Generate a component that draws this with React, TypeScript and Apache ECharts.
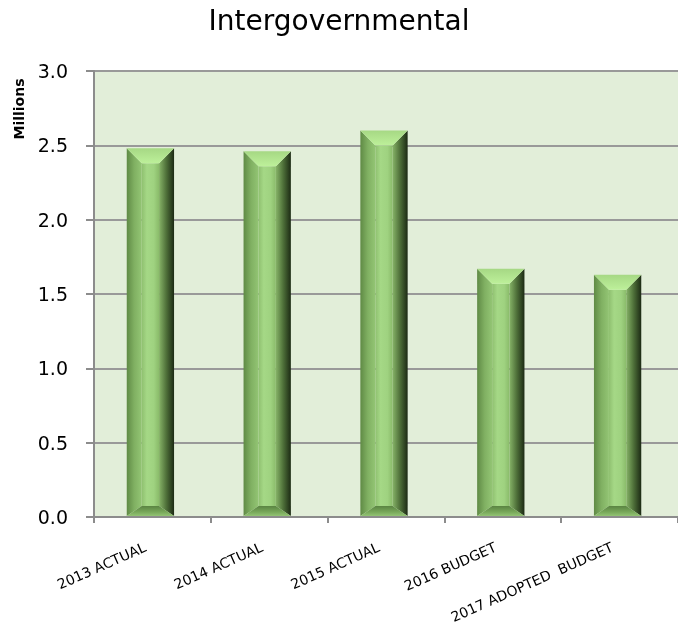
import React, { useEffect, useRef } from "react";
import * as echarts from "echarts";

const categories = ["2013 ACTUAL", "2014 ACTUAL", "2015 ACTUAL", "2016 BUDGET", "2017 ADOPTED  BUDGET"];
const values = [2.48, 2.46, 2.6, 1.67, 1.63];
const yTicks = { min: 0, max: 3, interval: 0.5 };

function lg(x1: number, y1: number, x2: number, y2: number, stops: [number, string][]) {
  return new echarts.graphic.LinearGradient(x1, y1, x2, y2, stops.map(([offset, color]) => ({ offset, color })));
}

export default function App() {
  const ref = useRef<HTMLDivElement>(null);
  useEffect(() => {
    if (!ref.current) return;
    const chart = echarts.init(ref.current, null, { renderer: "svg" });
    const option: any = {
      animation: false,
      title: {
        text: "Intergovernmental",
        left: "center",
        top: 1,
        textStyle: { fontFamily: "DejaVu Sans", fontSize: 28, fontWeight: "normal", color: "#000" },
      },
      graphic: [
        {
          type: "text",
          x: 19,
          y: 109,
          rotation: Math.PI / 2,
          style: {
            text: "Millions",
            font: "bold 14px 'DejaVu Sans'",
            fill: "#000",
            align: "center",
            verticalAlign: "middle",
          },
        },
      ],
      grid: {
        left: 94,
        right: 0,
        top: 71,
        bottom: 112,
        show: true,
        backgroundColor: "#e2eed9",
        borderWidth: 0,
        containLabel: false,
        outerBoundsMode: "none",
      },
      xAxis: {
        type: "category",
        data: categories,
        axisLine: { lineStyle: { color: "#8c8c8c", width: 2 } },
        axisTick: { show: true, length: 6, lineStyle: { color: "#8c8c8c", width: 2 } },
        axisLabel: {
          rotate: 24,
          margin: 26,
          padding: [0, 8, 0, 0],
          fontFamily: "DejaVu Sans",
          fontSize: 14,
          color: "#000",
          interval: 0,
        },
      },
      yAxis: {
        type: "value",
        min: yTicks.min,
        max: yTicks.max,
        interval: yTicks.interval,
        axisLine: { show: true, lineStyle: { color: "#8c8c8c", width: 2 } },
        axisTick: { show: true, length: 8, lineStyle: { color: "#8c8c8c", width: 2 } },
        splitLine: { show: true, lineStyle: { color: "#999999", width: 2 } },
        axisLabel: {
          margin: 26,
          fontFamily: "DejaVu Sans",
          fontSize: 19,
          color: "#000",
          formatter: (v: number) => v.toFixed(1),
        },
      },
      series: [
        {
          type: "custom",
          data: values.map((v, i) => [i, v]),
          encode: { x: 0, y: 1 },
          renderItem: (params: any, api: any) => {
            const idx = api.value(0);
            const v = api.value(1);
            const top = api.coord([idx, v]);
            const base = api.coord([idx, 0]);
            const bw = api.size([1, 0])[0] * 0.405;
            const cx = top[0] - 2;
            const l = cx - bw / 2;
            const r = cx + bw / 2;
            const t = top[1];
            const b = base[1] - 1;
            const bv = 15;
            const bb = 10;
            const il = l + bv;
            const ir = r - bv;
            const it = t + bv;
            const ib = b - bb;
            return {
              type: "group",
              children: [
                {
                  type: "rect",
                  shape: { x: il, y: it, width: ir - il, height: ib - it },
                  style: { fill: lg(0, 0, 1, 0, [[0, "#8fc070"], [0.3, "#a5d886"], [0.7, "#9fd280"], [1, "#8abb6a"]]) },
                },
                {
                  type: "polygon",
                  shape: { points: [[l, t], [il, it], [il, ib], [l, b]] },
                  style: { fill: lg(0, 0, 1, 0, [[0, "#5f8a45"], [0.5, "#80b062"], [1, "#93c574"]]) },
                },
                {
                  type: "polygon",
                  shape: { points: [[r, t], [ir, it], [ir, ib], [r, b]] },
                  style: { fill: lg(0, 0, 1, 0, [[0, "#86b367"], [0.5, "#4d6e38"], [1, "#1c2a14"]]) },
                },
                {
                  type: "polygon",
                  shape: { points: [[l, t], [r, t], [ir, it], [il, it]] },
                  style: { fill: lg(0, 0, 0, 1, [[0, "#a6d884"], [1, "#bdf09a"]]) },
                },
                {
                  type: "polygon",
                  shape: { points: [[l, b], [il, ib], [ir, ib], [r, b]] },
                  style: { fill: lg(0, 0, 0, 1, [[0, "#5a8442"], [0.6, "#78a85a"], [1, "#93c474"]]) },
                },
              ],
            };
          },
        },
      ],
    };
    chart.setOption(option);
    return () => chart.dispose();
  }, []);
  return <div ref={ref} style={{ position: "fixed", left: 0, top: 0, width: 678, height: 629 }} />;
}
